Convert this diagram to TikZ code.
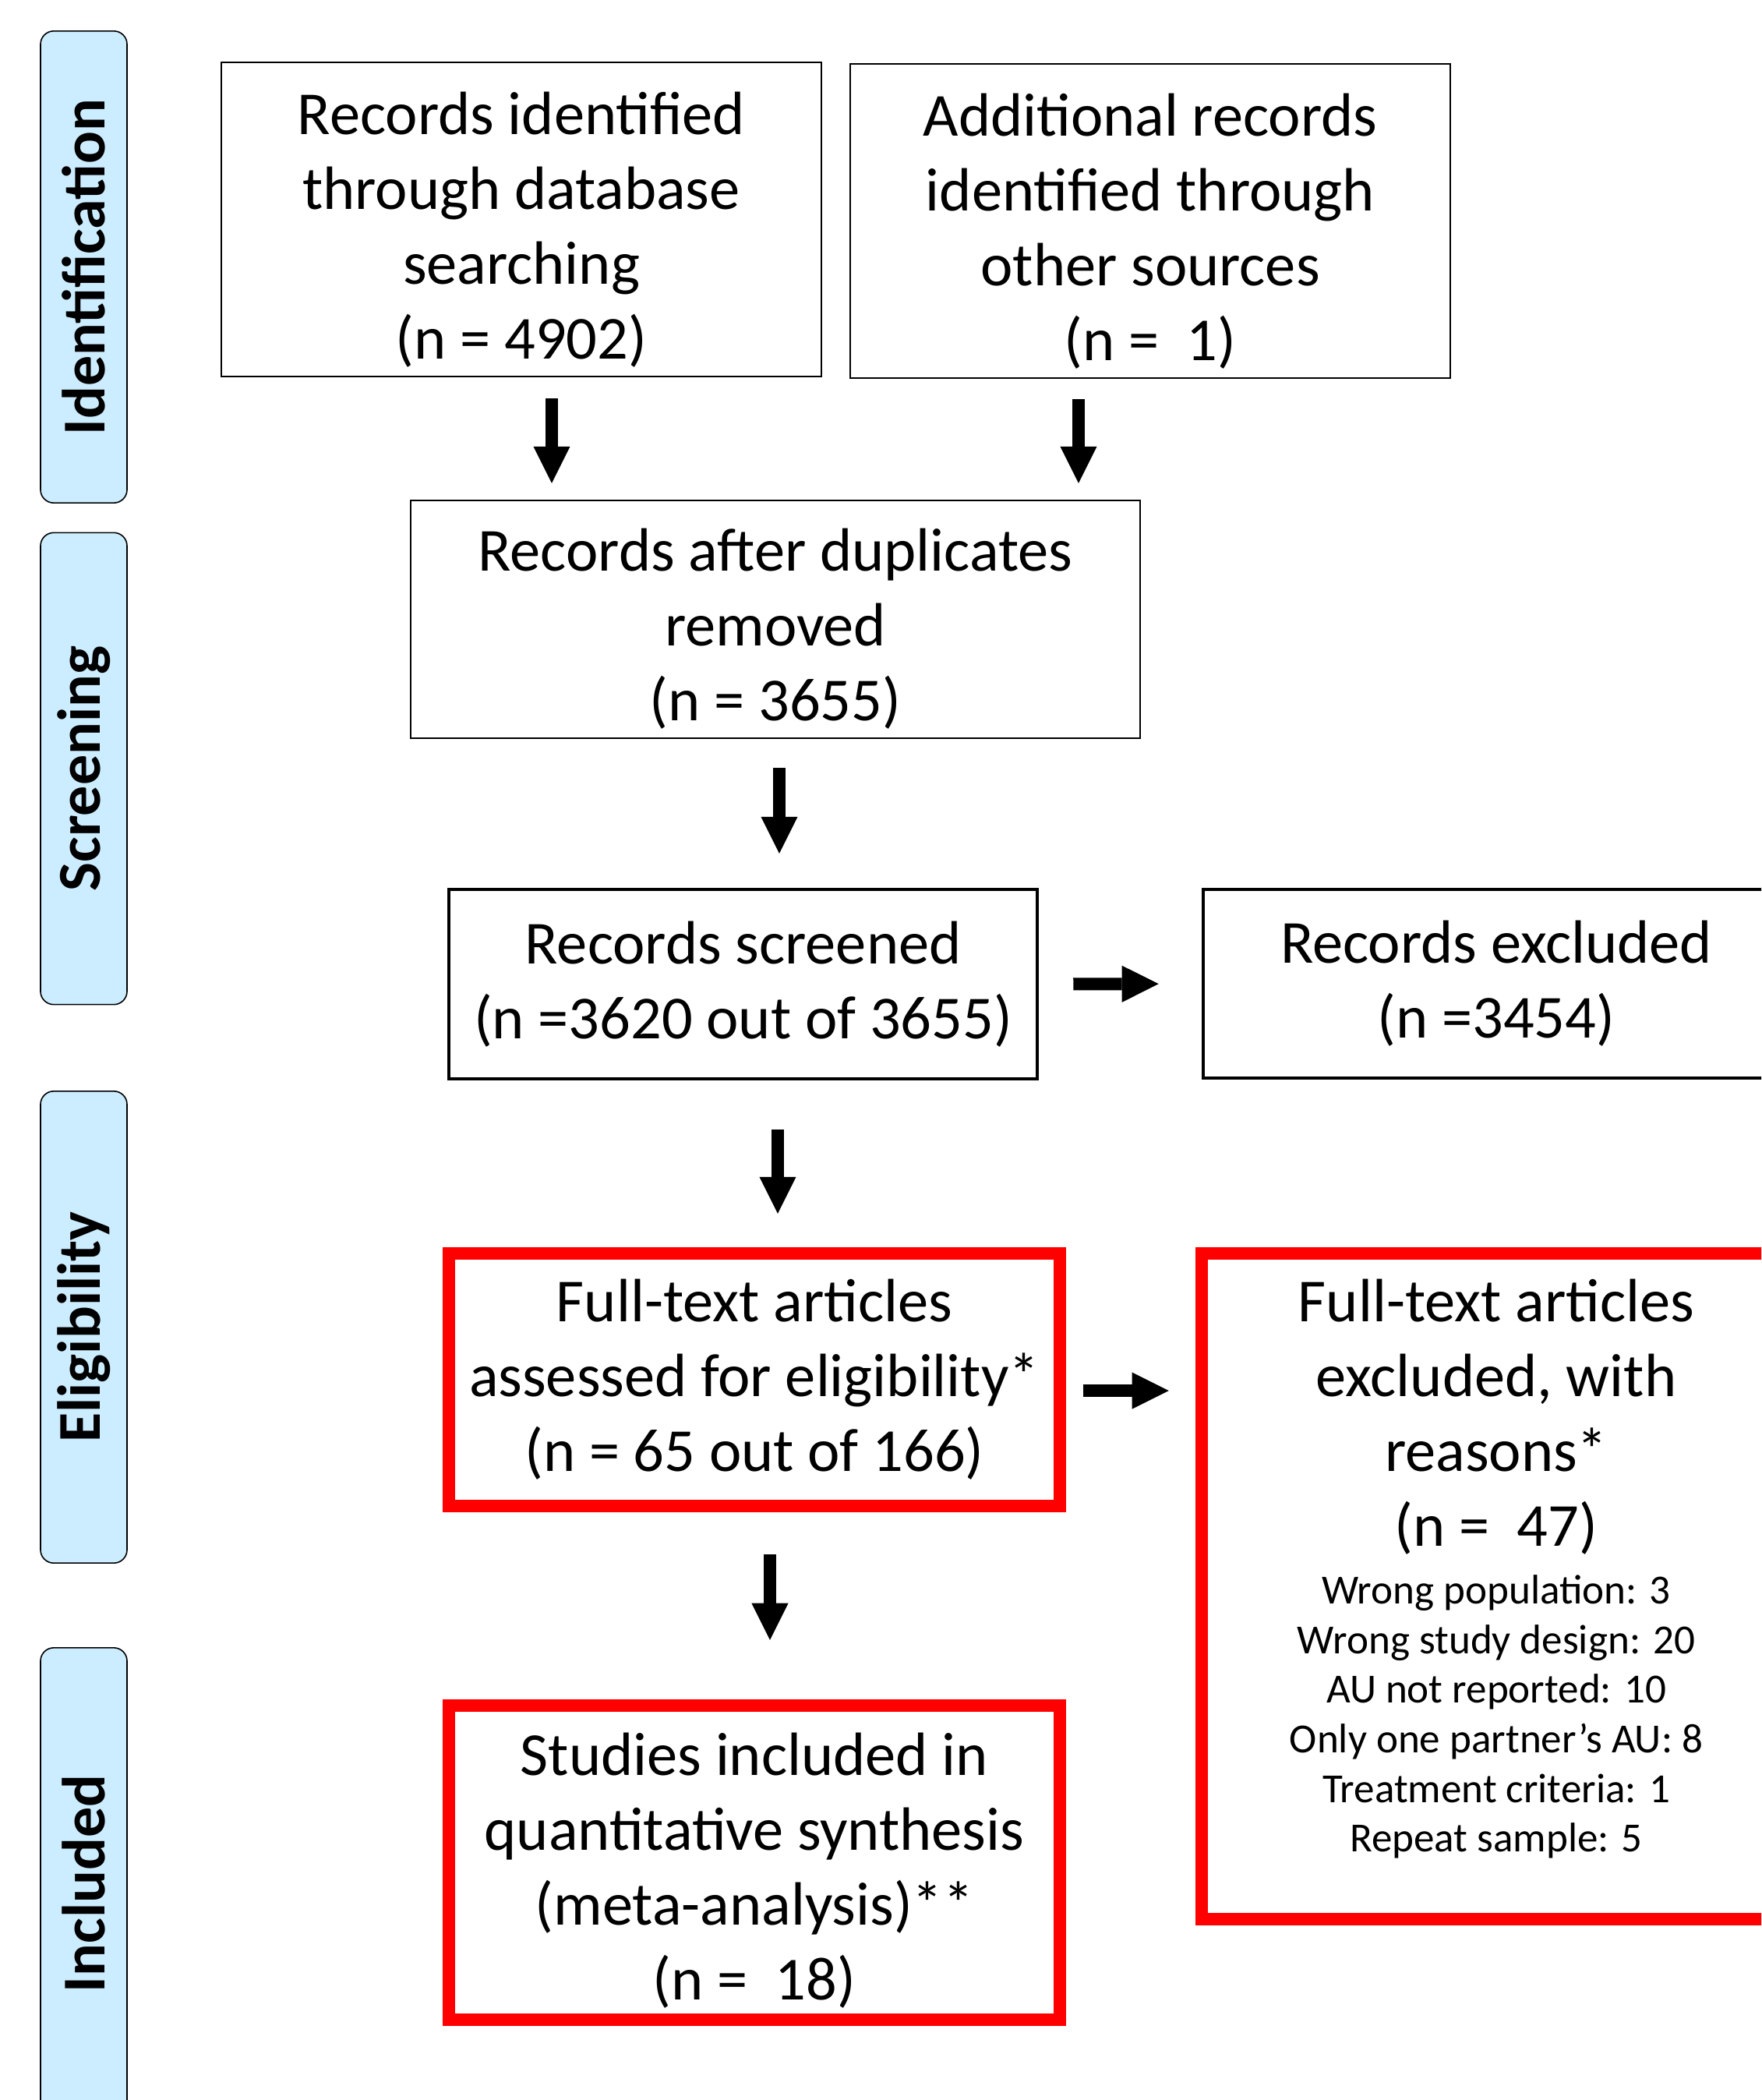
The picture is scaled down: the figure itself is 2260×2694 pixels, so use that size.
\documentclass[tikz,border=0pt]{standalone}
\usepackage{fontspec}
\setmainfont{Carlito}
\usetikzlibrary{arrows.meta, calc}
\definecolor{stageblue}{HTML}{CCECFF}
\definecolor{boxred}{HTML}{FF0000}
\newcommand{\boxfont}{\fontsize{22.3}{27.3}\selectfont}
\newcommand{\reasonfont}{\fontsize{15.1}{18.1}\selectfont}
\newcommand{\padtop}[1]{\rule{0pt}{#1}}
\tikzset{
  stage/.style={draw=black, line width=0.45pt, fill=stageblue, rounded corners=0.17cm,
    rotate=90, minimum width=6.05cm, minimum height=1.11cm,
    font=\fontsize{22.2}{26}\selectfont\bfseries},
  thinbox/.style={draw=black, line width=0.65pt, outer sep=0pt, align=center, font=\boxfont},
  thickbox/.style={draw=black, line width=1.25pt, outer sep=0pt, align=center, font=\boxfont},
  redbox/.style={draw=boxred, line width=4.55pt, outer sep=0pt, align=center, font=\boxfont},
  flow/.style={line width=4.55pt, -{Triangle[length=13.4pt, width=13.4pt, line width=0pt]}}
}
\begin{document}
\begin{tikzpicture}[x=0.01cm, y=-0.01cm]
    \path[use as bounding box] (0,0) rectangle (2260,2694);
    \clip (0,0) rectangle (2260,2694);

    % stages on the left
    \node[stage] (stIdent) at (107.5,342.5) {Identification};
    \node[stage] (stScreen) at (107.5,986) {Screening};
    \node[stage] (stElig) at (107.5,1702.5) {Eligibility};
    \node[stage] (stIncl) at (107.5,2416.5) {Included};

    % boxes
    \node[thinbox, minimum width=7.7cm, minimum height=3.98cm] (db) at (669,281.5)
        {\padtop{23pt}Records identified\\through database\\searching\\(n = 4902)};
    \node[thinbox, minimum width=7.7cm, minimum height=3.98cm] (other) at (1476,283.5)
        {\padtop{23pt}Additional records\\identified through\\other sources\\(n = \ 1)};
    \node[thinbox, minimum width=9.36cm, minimum height=3.05cm] (dup) at (995,794.5)
        {\padtop{22.4pt}Records after duplicates\\removed\\(n = 3655)};
    \node[thickbox, minimum width=7.55cm, minimum height=2.43cm] (scr) at (953.5,1262.5)
        {Records screened\\(n =3620 out of 3655)};
    \node[thickbox, minimum width=7.52cm, minimum height=2.42cm] (excl) at (1920,1262)
        {Records excluded\\(n =3454)};
    \node[redbox, minimum width=7.84cm, minimum height=3.24cm] (full) at (968,1770)
        {Full-text articles\\assessed for eligibility*\\(n = 65 out of 166)};
    \node[redbox, align=flush center, minimum width=7.56cm, minimum height=8.54cm, text width=7cm] (fexcl) at (1920,2035)
        {Full-text articles\\excluded, with\\reasons*\\(n = \ 47)\par\vspace{2.9pt}
         {\reasonfont Wrong population: 3\\Wrong study design: 20\\AU not reported: 10\\
          Only one partner’s AU: 8\\Treatment criteria: 1\\Repeat sample: 5\rule[-15pt]{0pt}{0pt}\par}};
    \node[redbox, minimum width=7.84cm, minimum height=4.03cm] (meta) at (968,2389.5)
        {\padtop{21.4pt}Studies included in\\quantitative synthesis\\(meta-analysis)**\\(n = \ 18)};

    % arrows
    \draw[flow, shorten <=0.28cm, shorten >=0.22cm] ($(db.south)+(39,0)$) -- ($(dup.north)+(-287,0)$);
    \draw[flow, shorten <=0.27cm, shorten >=0.22cm] ($(other.south)+(-92,0)$) -- ($(dup.north)+(389,0)$);
    \draw[flow, shorten <=0.38cm, shorten >=0.46cm] ($(dup.south)+(5,0)$) -- ($(scr.north)+(46.5,0)$);
    \draw[flow, shorten <=0.46cm, shorten >=0.57cm] (scr.east) -- (excl.west);
    \draw[flow, shorten <=0.65cm, shorten >=0.51cm] ($(scr.south)+(44.5,0)$) -- ($(full.north)+(30,0)$);
    \draw[flow, shorten <=0.30cm, shorten >=0.42cm] ($(full.east)+(0,14)$) -- ($(fexcl.west)+(0,-251)$);
    \draw[flow, shorten <=0.62cm, shorten >=0.84cm] ($(full.south)+(20,0)$) -- ($(meta.north)+(20,0)$);
\end{tikzpicture}
\end{document}
